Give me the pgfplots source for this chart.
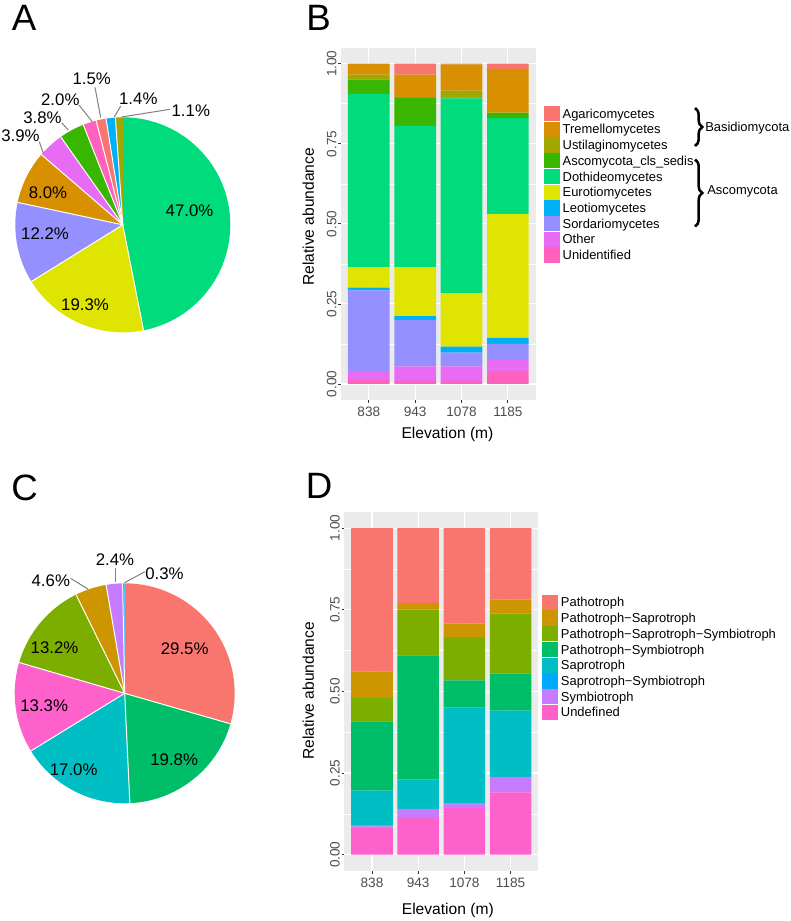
\documentclass[border=0pt]{standalone}
\usepackage{pgfplots}
\pgfplotsset{compat=1.18}
\usepackage{pgfplotstable}
\usepackage{fontspec}
\setmainfont{Liberation Sans}
\usetikzlibrary{decorations.pathreplacing}

\definecolor{cAgar}{HTML}{F8766D}
\definecolor{cTrem}{HTML}{D89000}
\definecolor{cUstil}{HTML}{A3A500}
\definecolor{cAsco}{HTML}{39B600}
\definecolor{cDoth}{HTML}{00DC7C}
\definecolor{cEuro}{HTML}{DFE500}
\definecolor{cLeot}{HTML}{00B0F6}
\definecolor{cSord}{HTML}{9590FF}
\definecolor{cOther}{HTML}{E76BF3}
\definecolor{cUnid}{HTML}{FF62BC}

\definecolor{dPath}{HTML}{F8766D}
\definecolor{dPSap}{HTML}{CD9600}
\definecolor{dPSS}{HTML}{7CAE00}
\definecolor{dPSym}{HTML}{00BE67}
\definecolor{dSap}{HTML}{00BFC4}
\definecolor{dSS}{HTML}{00A9FF}
\definecolor{dSym}{HTML}{C77CFF}
\definecolor{dUndef}{HTML}{FF61CC}

\definecolor{ggbg}{HTML}{EBEBEB}
\definecolor{ggtext}{HTML}{4D4D4D}
\definecolor{ggtick}{HTML}{333333}

\newcommand{\ticksize}{\fontsize{10.2pt}{12pt}\selectfont}
\newcommand{\labsize}{\fontsize{11.7pt}{14pt}\selectfont}
\newcommand{\legsize}{\fontsize{9.7pt}{11.6pt}\selectfont}
\newcommand{\piesize}{\fontsize{12.6pt}{15pt}\selectfont}
\newcommand{\letsize}{\fontsize{27.5pt}{32pt}\selectfont}

% pie data (percent, colour), clockwise from 12 o'clock
\pgfplotstableread{
pct col
47.0 cDoth
19.3 cEuro
12.2 cSord
8.0 cTrem
3.9 cOther
3.8 cAsco
2.0 cUnid
1.5 cAgar
1.4 cLeot
1.1 cUstil
}\pieA

\pgfplotstableread{
pct col
29.5 dPath
19.8 dPSym
17.0 dSap
13.3 dUndef
13.2 dPSS
4.6 dPSap
2.4 dSym
0.3 dSS
}\pieC

% stacked bars, bottom to top
\pgfplotstableread{
x Unid Other Sord Leot Euro Doth Asco Ustil Trem Agar
1 0.0125 0.0245 0.255 0.009 0.064 0.541 0.044 0.016 0.034 0.000
2 0.010 0.045 0.145 0.012 0.153 0.441 0.087 0.003 0.070 0.034
3 0.010 0.045 0.043 0.019 0.167 0.608 0.003 0.021 0.082 0.002
4 0.040 0.038 0.047 0.019 0.386 0.300 0.016 0.002 0.136 0.016
}\barB

\pgfplotstableread{
x Undef Sym SS Sap PSym PSS PSap Path
1 0.081 0.006 0.002 0.107 0.212 0.072 0.081 0.439
2 0.115 0.025 0.000 0.090 0.380 0.140 0.020 0.230
3 0.143 0.013 0.002 0.292 0.084 0.132 0.041 0.293
4 0.191 0.047 0.000 0.203 0.113 0.184 0.043 0.219
}\barD

% #1 table, #2 cx, #3 cy, #4 r (px), #5 total, #6 last row index
\newcommand{\drawpie}[6]{%
  \def\cum{0}%
  \pgfmathsetmacro\degper{360/#5}%
  \pgfplotsforeachungrouped \i in {0,...,#6}{%
    \pgfplotstablegetelem{\i}{pct}\of{#1}\let\pct\pgfplotsretval
    \pgfplotstablegetelem{\i}{col}\of{#1}\let\col\pgfplotsretval
    \pgfmathsetmacro\aS{90-\cum*\degper}%
    \pgfmathsetmacro\cumN{\cum+\pct}%
    \pgfmathsetmacro\aE{90-\cumN*\degper}%
    \pgfmathsetmacro\sx{#2+#4*cos(\aS)}%
    \pgfmathsetmacro\sy{#3-#4*sin(\aS)}%
    \pgfmathsetmacro\rpt{0.75*#4}%
    \edef\doslice{\noexpand\fill[fill=\col] (axis cs:#2,#3) -- (axis cs:\sx,\sy) arc[start angle=\aS, end angle=\aE, radius=\rpt pt] -- cycle;
      \noexpand\draw[white, line width=0.75pt] (axis cs:#2,#3) -- (axis cs:\sx,\sy);}%
    \doslice
    \let\cum\cumN
  }%
}

\pgfplotsset{
  ggbar/.style={
    scale only axis, anchor=north west,
    xmin=0.4, xmax=4.6, ymin=-0.05, ymax=1.05,
    ybar stacked, bar width=0.9,
    axis background/.style={fill=ggbg},
    axis line style={draw=none},
    xtick={1,2,3,4}, xticklabels={838,943,1078,1185},
    ytick={0,0.25,0.5,0.75,1}, yticklabels={0.00,0.25,0.50,0.75,1.00},
    minor ytick={0.125,0.375,0.625,0.875},
    xmajorgrids, ymajorgrids, yminorgrids,
    major grid style={white, line width=0.8pt},
    minor grid style={white, line width=0.4pt},
    tick align=outside, major tick length=2pt, minor tick length=0pt,
    tick style={color=ggtick, line width=0.6pt},
    xtick pos=left, ytick pos=left,
    /pgf/number format/assume math mode=true,
    tick label style={font=\ticksize, text=ggtext},
    yticklabel style={rotate=90, anchor=south, inner sep=1.2pt},
    xlabel={Elevation (m)}, ylabel={Relative abundance},
    label style={font=\labsize},
    legend cell align=left,
    reverse legend,
    legend image code/.code={\fill[##1] (0pt,-5.75pt) rectangle (12pt,5.75pt);},
  }
}

\begin{document}
\begin{tikzpicture}
\path[use as bounding box] (0pt,0pt) rectangle (593.25pt,-690.75pt);

% ---------- overlay axis: pies, letters, annotations (pixel units) ----------
\begin{axis}[at={(0pt,0pt)}, anchor=north west, scale only axis,
  width=593.25pt, height=690.75pt,
  xmin=0, xmax=791, ymin=0, ymax=921, y dir=reverse,
  hide axis, clip=false]
\addplot[draw=none] coordinates {(0,0) (791,921)};

\drawpie{\pieA}{122.8}{224.8}{107.5}{100.2}{9}
\drawpie{\pieC}{124.7}{693.3}{110}{100.1}{7}

% panel letters
\node[font=\letsize, inner sep=0pt] at (axis cs:24,18.3) {A};
\node[font=\letsize, inner sep=0pt] at (axis cs:318.5,17.5) {B};
\node[font=\letsize, inner sep=0pt] at (axis cs:24.7,487.5) {C};
\node[font=\letsize, inner sep=0pt] at (axis cs:319,486) {D};

% pie A labels
\node[font=\piesize, inner sep=0pt] at (axis cs:189.5,211.2) {47.0\%};
\node[font=\piesize, inner sep=0pt] at (axis cs:85,304.7) {19.3\%};
\node[font=\piesize, inner sep=0pt] at (axis cs:45,233.7) {12.2\%};
\node[font=\piesize, inner sep=0pt] at (axis cs:48,193) {8.0\%};
\draw[gray, line width=0.75pt] (axis cs:121.5,117) -- (axis cs:170,109.3);
\draw[gray, line width=0.75pt] (axis cs:114.3,117) -- (axis cs:120.7,106);
\draw[gray, line width=0.75pt] (axis cs:100.7,117.5) -- (axis cs:95,87.3);
\draw[gray, line width=0.75pt] (axis cs:92.3,121.7) -- (axis cs:79,105);
\draw[gray, line width=0.75pt] (axis cs:68.3,130) -- (axis cs:61.7,122.7);
\draw[gray, line width=0.75pt] (axis cs:43.3,153.3) -- (axis cs:39.3,141.7);
\node[font=\piesize, inner sep=0pt] at (axis cs:190.8,111.2) {1.1\%};
\node[font=\piesize, inner sep=0pt] at (axis cs:138.3,99.2) {1.4\%};
\node[font=\piesize, inner sep=0pt] at (axis cs:91.7,78.8) {1.5\%};
\node[font=\piesize, inner sep=0pt] at (axis cs:60.3,100) {2.0\%};
\node[font=\piesize, inner sep=0pt] at (axis cs:42.5,118) {3.8\%};
\node[font=\piesize, inner sep=0pt] at (axis cs:20.5,136.2) {3.9\%};

% pie C labels
\node[font=\piesize, inner sep=0pt] at (axis cs:184.7,648.8) {29.5\%};
\node[font=\piesize, inner sep=0pt] at (axis cs:174.2,759.7) {19.8\%};
\node[font=\piesize, inner sep=0pt] at (axis cs:73.7,769.7) {17.0\%};
\node[font=\piesize, inner sep=0pt] at (axis cs:44.2,705.3) {13.3\%};
\node[font=\piesize, inner sep=0pt] at (axis cs:54.5,647.8) {13.2\%};
\draw[gray, line width=0.75pt] (axis cs:88.3,589.3) -- (axis cs:70.7,578.3);
\draw[gray, line width=0.75pt] (axis cs:115,582.3) -- (axis cs:115,567.5);
\draw[gray, line width=0.75pt] (axis cs:124.5,582.7) -- (axis cs:145,571.7);
\node[font=\piesize, inner sep=0pt] at (axis cs:50.8,580.3) {4.6\%};
\node[font=\piesize, inner sep=0pt] at (axis cs:115,560) {2.4\%};
\node[font=\piesize, inner sep=0pt] at (axis cs:164.5,573.3) {0.3\%};

% braces in legend B
\draw[decorate, decoration={brace, amplitude=5.5pt}, line width=1.9pt] (axis cs:695,108) -- (axis cs:695,146);
\draw[decorate, decoration={brace, amplitude=5.5pt}, line width=1.9pt] (axis cs:695,159.5) -- (axis cs:695,226.5);
\node[font=\legsize, inner sep=0pt, anchor=west] at (axis cs:705,128.3) {Basidiomycota};
\node[font=\legsize, inner sep=0pt, anchor=west] at (axis cs:707,191.7) {Ascomycota};
\end{axis}

% ---------- panel B ----------
\begin{axis}[ggbar,
  at={(255.75pt,-35.775pt)}, width=146.025pt, height=264.225pt,
  xlabel style={at={(axis description cs:0.547,-0.0965)}, anchor=center},
  ylabel style={at={(axis description cs:-0.168,0.52)}, anchor=center},
  legend style={at={(1.0426,0.8354)}, anchor=north west, draw=none, fill=none,
    inner sep=0pt, outer sep=0pt, row sep=0pt, font=\legsize,
    nodes={inner sep=0pt, text height=9.3pt, text depth=2.5pt},
    /tikz/every odd column/.append style={column sep=2pt}},
]
\addplot[fill=cUnid, draw=none] table[x=x, y=Unid] {\barB};
\addlegendentry{Unidentified}
\addplot[fill=cOther, draw=none] table[x=x, y=Other] {\barB};
\addlegendentry{Other}
\addplot[fill=cSord, draw=none] table[x=x, y=Sord] {\barB};
\addlegendentry{Sordariomycetes}
\addplot[fill=cLeot, draw=none] table[x=x, y=Leot] {\barB};
\addlegendentry{Leotiomycetes}
\addplot[fill=cEuro, draw=none] table[x=x, y=Euro] {\barB};
\addlegendentry{Eurotiomycetes}
\addplot[fill=cDoth, draw=none] table[x=x, y=Doth] {\barB};
\addlegendentry{Dothideomycetes}
\addplot[fill=cAsco, draw=none] table[x=x, y=Asco] {\barB};
\addlegendentry{Ascomycota\_cls\_sedis}
\addplot[fill=cUstil, draw=none] table[x=x, y=Ustil] {\barB};
\addlegendentry{Ustilaginomycetes}
\addplot[fill=cTrem, draw=none] table[x=x, y=Trem] {\barB};
\addlegendentry{Tremellomycetes}
\addplot[fill=cAgar, draw=none] table[x=x, y=Agar] {\barB};
\addlegendentry{Agaricomycetes}
\end{axis}

% ---------- panel D ----------
\begin{axis}[ggbar,
  at={(258.225pt,-383.775pt)}, width=145.5pt, height=269.475pt,
  xlabel style={at={(axis description cs:0.5335,-0.1085)}, anchor=center},
  ylabel style={at={(axis description cs:-0.1856,0.5015)}, anchor=center},
  legend style={at={(1.0206,0.7698)}, anchor=north west, draw=none, fill=none,
    inner sep=0pt, outer sep=0pt, row sep=0pt, font=\legsize,
    nodes={inner sep=0pt, text height=9.3pt, text depth=2.5pt},
    /tikz/every odd column/.append style={column sep=2pt}},
]
\addplot[fill=dUndef, draw=none] table[x=x, y=Undef] {\barD};
\addlegendentry{Undefined}
\addplot[fill=dSym, draw=none] table[x=x, y=Sym] {\barD};
\addlegendentry{Symbiotroph}
\addplot[fill=dSS, draw=none] table[x=x, y=SS] {\barD};
\addlegendentry{Saprotroph−Symbiotroph}
\addplot[fill=dSap, draw=none] table[x=x, y=Sap] {\barD};
\addlegendentry{Saprotroph}
\addplot[fill=dPSym, draw=none] table[x=x, y=PSym] {\barD};
\addlegendentry{Pathotroph−Symbiotroph}
\addplot[fill=dPSS, draw=none] table[x=x, y=PSS] {\barD};
\addlegendentry{Pathotroph−Saprotroph−Symbiotroph}
\addplot[fill=dPSap, draw=none] table[x=x, y=PSap] {\barD};
\addlegendentry{Pathotroph−Saprotroph}
\addplot[fill=dPath, draw=none] table[x=x, y=Path] {\barD};
\addlegendentry{Pathotroph}
\end{axis}
\end{tikzpicture}
\end{document}
